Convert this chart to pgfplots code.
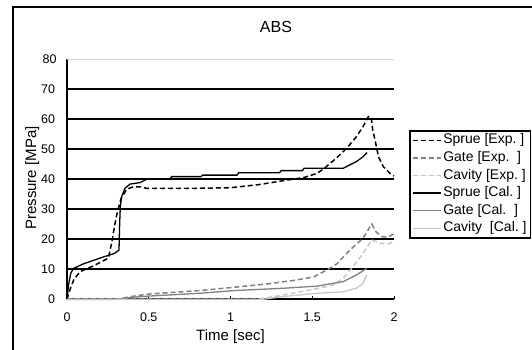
\documentclass[border=0pt]{standalone}
\usepackage{pgfplots}
\pgfplotsset{compat=1.18}
\usepackage{fontspec}
\setmainfont{Liberation Sans}
\frenchspacing
\definecolor{gateg}{gray}{0.5}
\definecolor{cavg}{gray}{0.78}

\begin{document}
\begin{tikzpicture}[x=1pt,y=1pt]
\path[use as bounding box] (0,0) rectangle (532,350);
\draw[line width=1.8pt] (13.3,-5) -- (13.3,342.7) -- (545,342.7);
\begin{axis}[
  at={(67pt,50.7pt)}, anchor=south west,
  scale only axis, width=327pt, height=240pt,
  xmin=0, xmax=2, ymin=0, ymax=80,
  axis lines=left,
  axis line style={-, line width=1.6pt, black},
  clip=false,
  xtick={0,0.5,1,1.5,2},
  ytick={0,10,...,70},
  extra y ticks={80},
  extra y tick style={grid style={gray!35, line width=0.8pt}, major tick length=0pt},
  ymajorgrids,
  grid style={black, line width=1.9pt},
  xtick align=inside,
  major tick length=3pt,
  xtick style={black, line width=0.8pt},
  ytick style={draw=none},
  /pgf/number format/assume math mode=true,
  xticklabel style={font=\fontsize{12.5}{12.5}\selectfont, yshift=-10pt},
  yticklabel style={font=\fontsize{12.5}{12.5}\selectfont, xshift=-7pt},
  legend style={at={(1.0459,0.7054)}, anchor=north west, draw=black, line width=1.6pt,
    font=\fontsize{14}{14}\selectfont, inner xsep=2pt, inner ysep=3pt,
    row sep=4.6pt, column sep=0pt,
    nodes={inner xsep=2pt, inner ysep=0pt, text height=10pt, text depth=3pt}},
  legend cell align=left,
  legend image code/.code={\draw[#1] (0pt,0pt) -- (28pt,0pt);},
]
\addplot[black, line width=1.5pt, dash pattern=on 5pt off 3pt] coordinates {
(0,0) (0.02,3.5) (0.043,6.7) (0.08,9.2) (0.16,11.1) (0.253,13.7) (0.273,18.7) (0.29,24.2) (0.304,28.1) (0.33,33.5) (0.365,36.7) (0.405,37.5) (0.447,37.5) (0.487,37) (0.6,37) (0.8,37) (1.0,37.2) (1.17,38.2) (1.33,39.6) (1.45,40.6) (1.53,42) (1.57,43.5) (1.65,47.2) (1.71,50.3) (1.77,54.2) (1.81,57.5) (1.843,60.9) (1.86,60.9) (1.87,56.4) (1.884,53.1) (1.905,47.5) (1.935,44.2) (1.975,42) (2.0,41.1)
};
\addlegendentry{Sprue [Exp. ]}
\addplot[gateg, line width=1.5pt, dash pattern=on 5pt off 3pt] coordinates {
(0,0) (0.304,0) (0.4,1) (0.51,1.8) (0.81,2.9) (1.02,4.0) (1.22,5.1) (1.40,6.4) (1.51,7.5) (1.59,9.8) (1.65,11.8) (1.73,16.4) (1.81,20.3) (1.864,25.1) (1.89,22.5) (1.925,20.9) (1.96,20.7) (2.0,21.8)
};
\addlegendentry{Gate [Exp.\ \ ]}
\addplot[cavg, line width=1.5pt, dash pattern=on 5pt off 3pt] coordinates {
(0,0) (1.16,0) (1.32,1.4) (1.49,3.1) (1.63,4.8) (1.69,7) (1.75,10.9) (1.81,15.3) (1.864,19.8) (1.915,18.7) (1.96,18.4) (2.0,19.2)
};
\addlegendentry{Cavity [Exp. ]}
\addplot[black, line width=1.3pt] coordinates {
(0,0) (0.01,5) (0.023,8.7) (0.04,10.3) (0.1,11.8) (0.2,13.7) (0.29,15.3) (0.318,16.4) (0.322,25) (0.326,30.9) (0.334,34.2) (0.355,37) (0.385,38.4) (0.447,38.9) (0.487,40) (0.63,40) (0.64,40.9) (0.82,40.9) (0.83,41.4) (1.04,41.4) (1.05,42.2) (1.3,42.2) (1.31,42.9) (1.44,42.9) (1.45,43.7) (1.69,43.7) (1.73,44.8) (1.77,45.9) (1.81,47.5) (1.835,48.9)
};
\addlegendentry{Sprue [Cal. ]}
\addplot[gateg, line width=1.3pt] coordinates {
(0,0) (0.3,0) (0.4,0.7) (0.51,1.1) (0.81,2) (1.02,2.9) (1.33,3.7) (1.53,4.4) (1.69,5.9) (1.77,8.1) (1.833,10.3)
};
\addlegendentry{Gate [Cal.\ \ ]}
\addplot[cavg, line width=1.3pt] coordinates {
(0,0) (1.2,0) (1.32,0.9) (1.53,2) (1.69,2.5) (1.77,3.7) (1.81,5.3) (1.833,8.1)
};
\addlegendentry{Cavity\ \ [Cal. ]}
\end{axis}
\node[font=\fontsize{16}{16}\selectfont] at (276,323) {ABS};
\node[font=\fontsize{15}{15}\selectfont] at (230.5,13) {Time [sec]};
\node[font=\fontsize{15}{15}\selectfont, rotate=90] at (32.2,172) {Pressure [MPa]};
\end{tikzpicture}
\end{document}
